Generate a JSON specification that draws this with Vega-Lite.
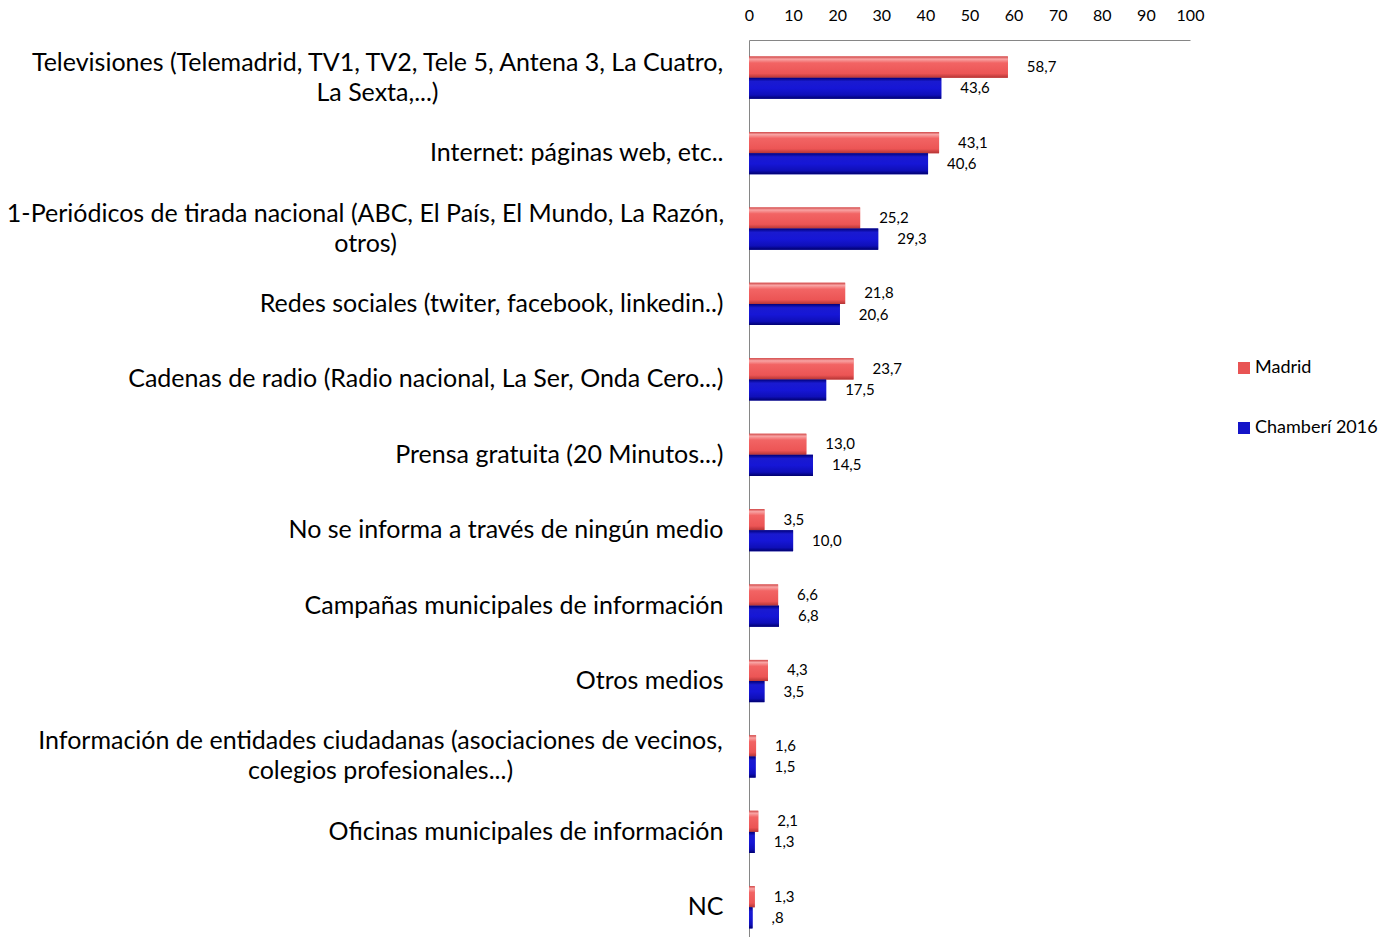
{
  "$schema": "https://vega.github.io/schema/vega-lite/v6.json",
  "width": 441,
  "height": 905,
  "autosize": {"type": "none"},
  "padding": {"left": 749, "top": 40, "right": 192, "bottom": 0},
  "background": "white",
  "config": {"view": {"stroke": null}, "font": "Lato"},
  "data": {
    "values": [
      {"medio": "Televisiones (Telemadrid, TV1, TV2, Tele 5, Antena 3, La Cuatro,\nLa Sexta,...)", "serie": "Madrid", "valor": 58.7},
      {"medio": "Televisiones (Telemadrid, TV1, TV2, Tele 5, Antena 3, La Cuatro,\nLa Sexta,...)", "serie": "Chamberí 2016", "valor": 43.6},
      {"medio": "Internet: páginas web, etc..", "serie": "Madrid", "valor": 43.1},
      {"medio": "Internet: páginas web, etc..", "serie": "Chamberí 2016", "valor": 40.6},
      {"medio": "1-Periódicos de tirada nacional (ABC, El País, El Mundo, La Razón,\notros)", "serie": "Madrid", "valor": 25.2},
      {"medio": "1-Periódicos de tirada nacional (ABC, El País, El Mundo, La Razón,\notros)", "serie": "Chamberí 2016", "valor": 29.3},
      {"medio": "Redes sociales (twiter, facebook, linkedin..)", "serie": "Madrid", "valor": 21.8},
      {"medio": "Redes sociales (twiter, facebook, linkedin..)", "serie": "Chamberí 2016", "valor": 20.6},
      {"medio": "Cadenas de radio (Radio nacional, La Ser, Onda Cero...)", "serie": "Madrid", "valor": 23.7},
      {"medio": "Cadenas de radio (Radio nacional, La Ser, Onda Cero...)", "serie": "Chamberí 2016", "valor": 17.5},
      {"medio": "Prensa gratuita (20 Minutos...)", "serie": "Madrid", "valor": 13.0},
      {"medio": "Prensa gratuita (20 Minutos...)", "serie": "Chamberí 2016", "valor": 14.5},
      {"medio": "No se informa a través de ningún medio", "serie": "Madrid", "valor": 3.5},
      {"medio": "No se informa a través de ningún medio", "serie": "Chamberí 2016", "valor": 10.0},
      {"medio": "Campañas municipales de información", "serie": "Madrid", "valor": 6.6},
      {"medio": "Campañas municipales de información", "serie": "Chamberí 2016", "valor": 6.8},
      {"medio": "Otros medios", "serie": "Madrid", "valor": 4.3},
      {"medio": "Otros medios", "serie": "Chamberí 2016", "valor": 3.5},
      {"medio": "Información de entidades ciudadanas (asociaciones de vecinos,\ncolegios profesionales...)", "serie": "Madrid", "valor": 1.6},
      {"medio": "Información de entidades ciudadanas (asociaciones de vecinos,\ncolegios profesionales...)", "serie": "Chamberí 2016", "valor": 1.5},
      {"medio": "Oficinas municipales de información", "serie": "Madrid", "valor": 2.1},
      {"medio": "Oficinas municipales de información", "serie": "Chamberí 2016", "valor": 1.3},
      {"medio": "NC", "serie": "Madrid", "valor": 1.3},
      {"medio": "NC", "serie": "Chamberí 2016", "valor": 0.8}
    ]
  },
  "transform": [
    {"calculate": "replace(format(datum.valor, '.1f'), '.', ',')", "as": "txt"},
    {"calculate": "datum.valor < 1 ? substring(datum.txt, 1) : datum.txt", "as": "etiqueta"}
  ],
  "encoding": {
    "y": {
      "field": "medio",
      "type": "nominal",
      "sort": null,
      "scale": {"paddingInner": 0.44, "paddingOuter": 0.22},
      "axis": {
        "title": null,
        "orient": "left",
        "ticks": false,
        "domain": true,
        "domainColor": "#868686",
        "domainWidth": 1,
        "labelExpr": "split(datum.label, '\\n')",
        "labelFont": "Lato",
        "labelFontSize": 25,
        "labelColor": "#000000",
        "labelAlign": {
          "condition": {"test": "indexof(datum.value, '\\n') >= 0", "value": "center"},
          "value": "right"
        },
        "labelPadding": {
          "condition": [
            {"test": "indexof(datum.value, 'Televisiones') === 0", "value": 372},
            {"test": "indexof(datum.value, '1-Peri') === 0", "value": 384},
            {"test": "indexof(datum.value, 'Informaci') === 0", "value": 369}
          ],
          "value": 26
        },
        "labelOffset": {
          "condition": {"test": "indexof(datum.value, '\\n') >= 0", "value": -15},
          "value": 0
        },
        "labelLineHeight": 30,
        "labelLimit": 0
      }
    },
    "yOffset": {"field": "serie", "type": "nominal", "sort": ["Madrid", "Chamberí 2016"]},
    "x": {
      "field": "valor",
      "type": "quantitative",
      "scale": {"domain": [0, 100], "nice": false},
      "axis": {
        "title": null,
        "orient": "top",
        "values": [0, 10, 20, 30, 40, 50, 60, 70, 80, 90, 100],
        "grid": false,
        "ticks": false,
        "domainColor": "#868686",
        "labelFontSize": 16,
        "labelColor": "#000000",
        "labelPadding": 17,
        "labelFlush": false
      }
    }
  },
  "layer": [
    {
      "mark": {"type": "bar"},
      "encoding": {
        "color": {
          "field": "serie",
          "type": "nominal",
          "sort": ["Madrid", "Chamberí 2016"],
          "scale": {"domain": ["Madrid", "Chamberí 2016"], "range": ["#e85454", "#1414c8"]},
          "legend": {
            "title": null,
            "orient": "none",
            "legendX": 486,
            "legendY": 319,
            "symbolType": "square",
            "symbolSize": 144,
            "symbolStrokeWidth": 0,
            "labelFontSize": 18,
            "labelColor": "#000000",
            "labelOffset": 2,
            "rowPadding": 42,
            "padding": 0
          }
        }
      }
    },
    {
      "transform": [{"filter": "datum.serie === 'Madrid'"}],
      "mark": {
        "type": "bar",
        "color": {"gradient": "linear", "x1": 0, "y1": 0, "x2": 0, "y2": 1, "stops": [
          {"offset": 0, "color": "#d04848"},
          {"offset": 0.12, "color": "#f8a4a4"},
          {"offset": 0.3, "color": "#f26464"},
          {"offset": 0.8, "color": "#ec5555"},
          {"offset": 1, "color": "#b53535"}
        ]}
      }
    },
    {
      "transform": [{"filter": "datum.serie === 'Chamberí 2016'"}],
      "mark": {
        "type": "bar",
        "color": {"gradient": "linear", "x1": 0, "y1": 0, "x2": 0, "y2": 1, "stops": [
          {"offset": 0, "color": "#000078"},
          {"offset": 0.18, "color": "#1a1ad0"},
          {"offset": 0.5, "color": "#1616d6"},
          {"offset": 0.82, "color": "#0f0fb8"},
          {"offset": 1, "color": "#00006e"}
        ]}
      }
    },
    {
      "mark": {"type": "text", "align": "left", "baseline": "middle", "dx": 19, "fontSize": 15, "color": "#000000"},
      "encoding": {
        "text": {"field": "etiqueta"}
      }
    }
  ]
}
